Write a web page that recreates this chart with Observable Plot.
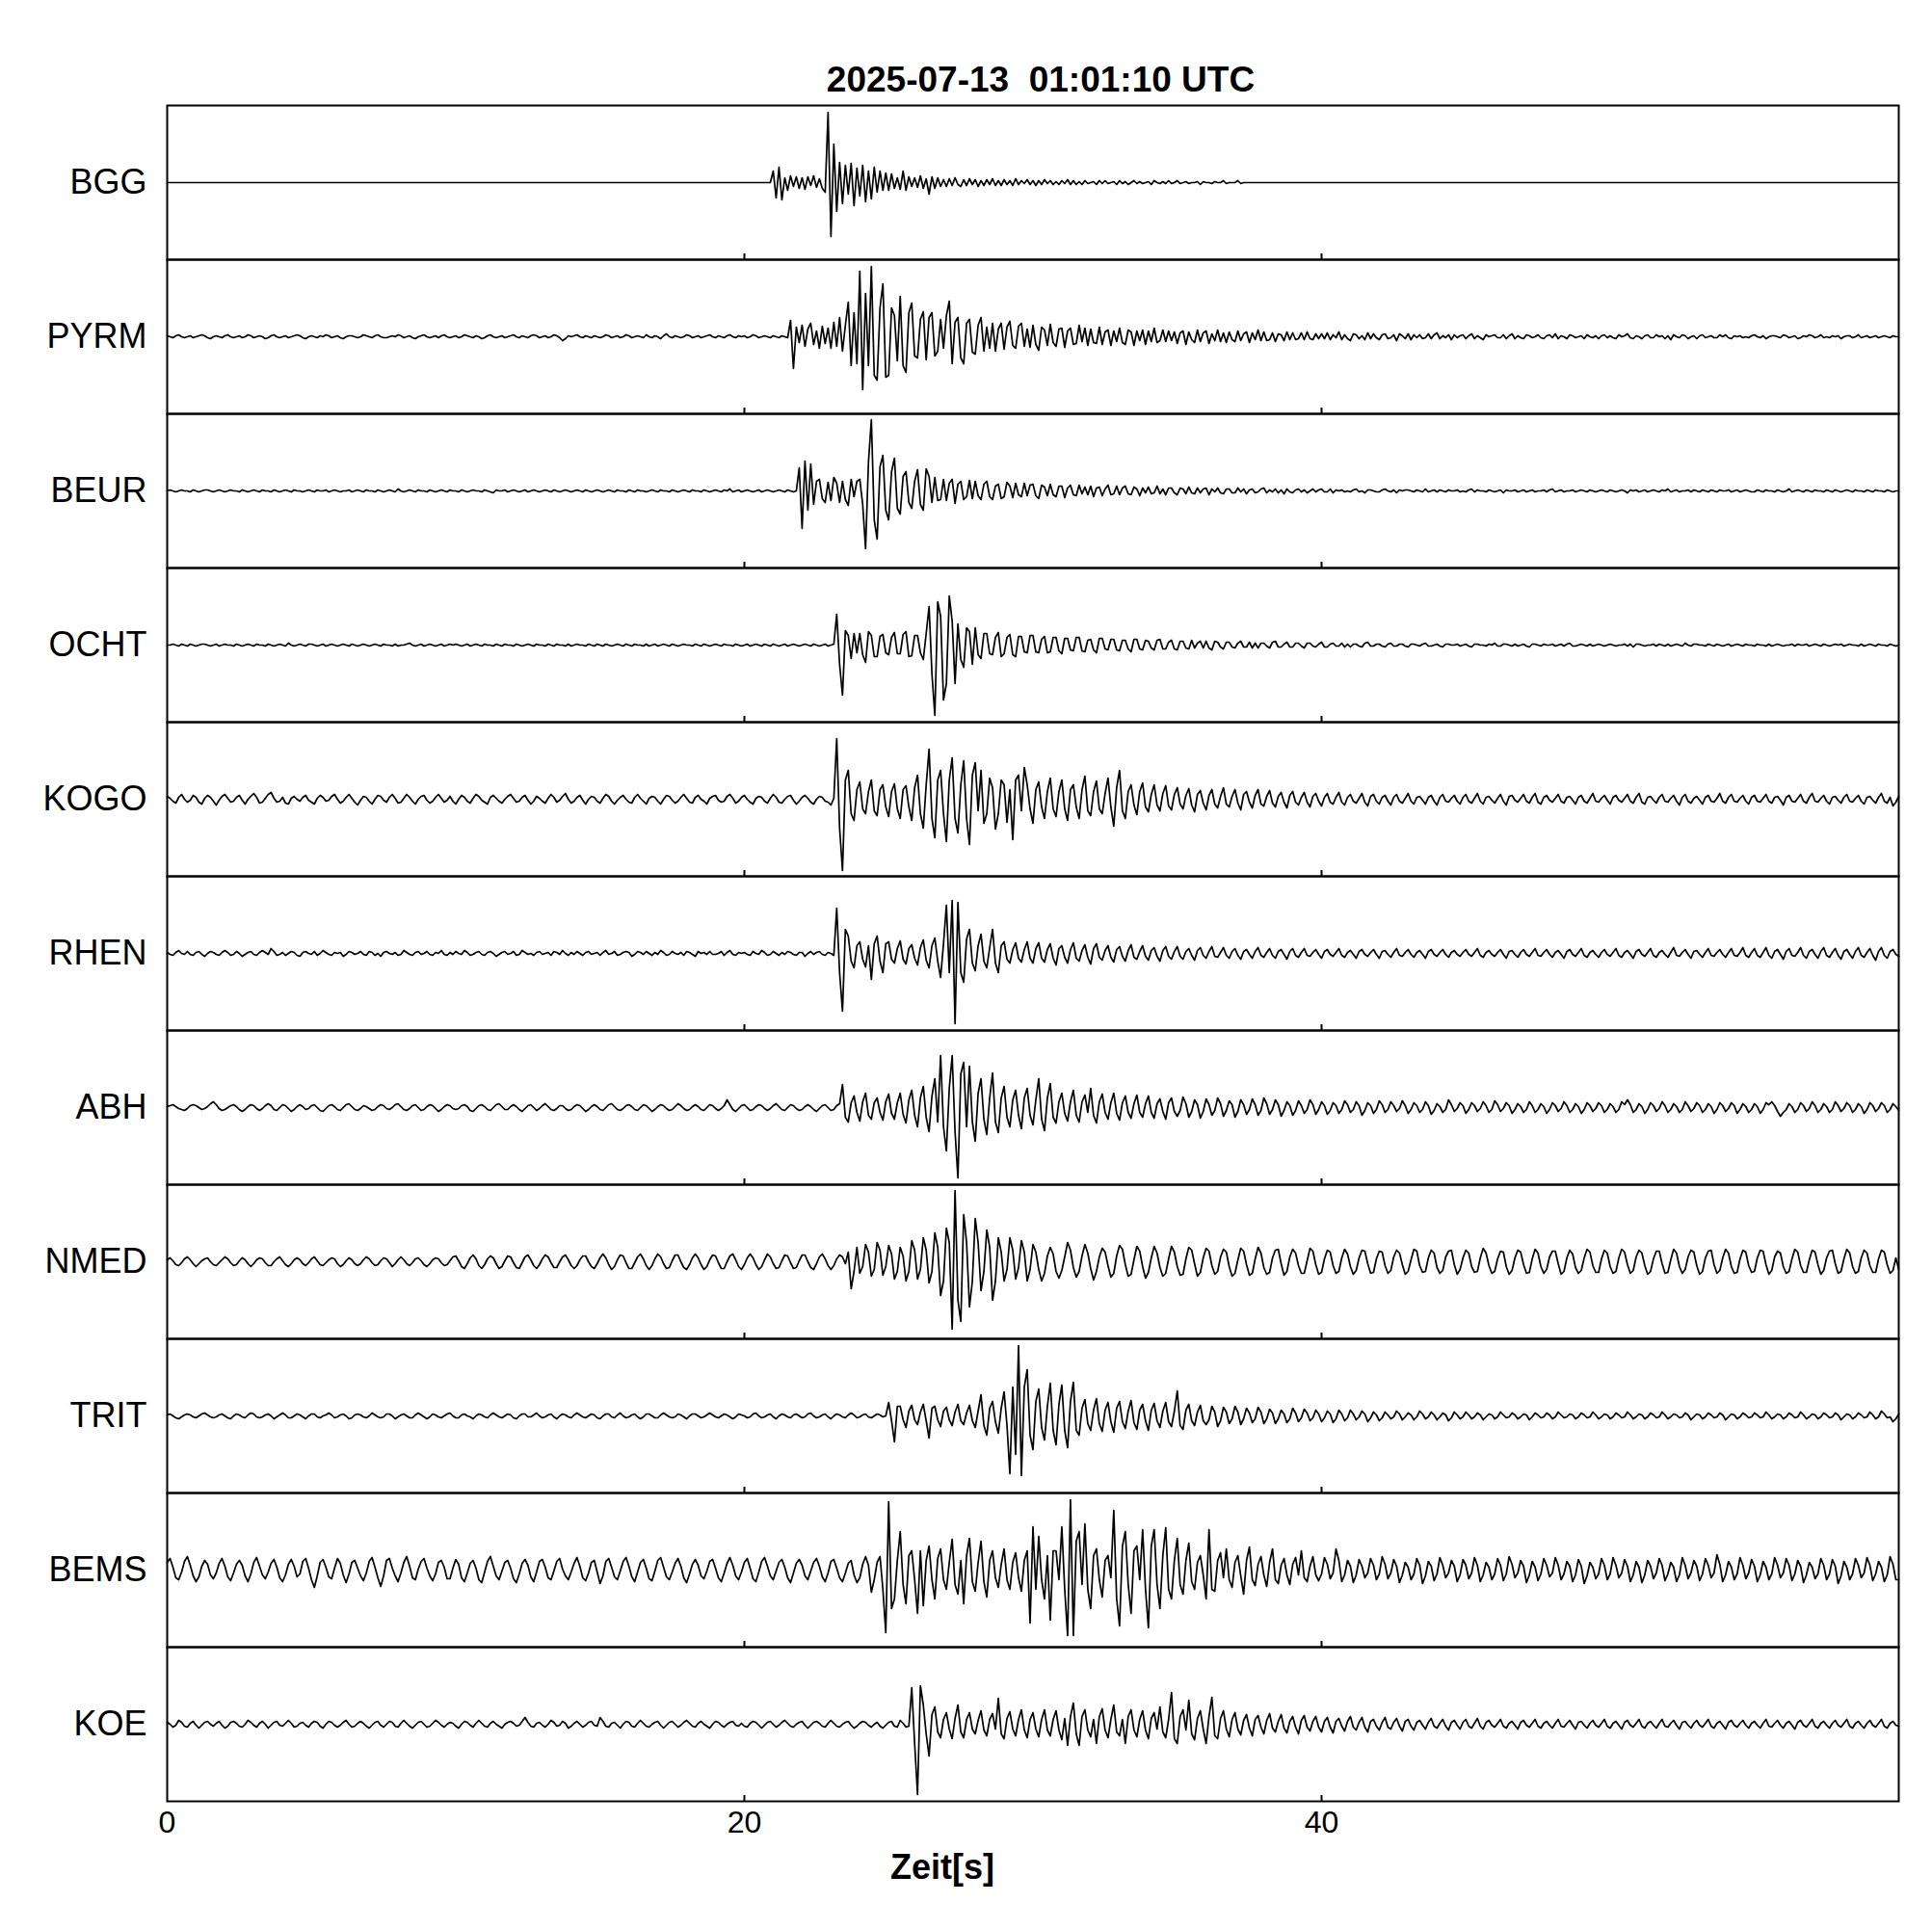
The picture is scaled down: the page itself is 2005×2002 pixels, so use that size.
<!DOCTYPE html>
<html>
<head>
<meta charset="utf-8">
<script src="https://cdn.jsdelivr.net/npm/d3@7"></script>
<script src="https://cdn.jsdelivr.net/npm/@observablehq/plot@0.6"></script>
<style>
  html, body { margin: 0; padding: 0; background: #fff; }
  #wrap { position: relative; width: 2005px; height: 2002px; font-family: "Liberation Sans", Arial, Helvetica, sans-serif; color: #000; }
  #title { position: absolute; left: 1080px; top: 64px; transform: translateX(-50%); font-size: 37px; line-height: 37px; font-weight: bold; white-space: pre; }
  #xlabel { position: absolute; left: 978px; top: 1920px; transform: translateX(-50%); font-size: 36px; line-height: 36px; font-weight: bold; white-space: pre; }
  #chart { position: absolute; left: 0; top: 0; }
</style>
</head>
<body>
<div id="wrap">
  <div id="chart"></div>
  <div id="title"></div>
  <div id="xlabel"></div>
</div>
<script>
const titleText = "2025-07-13  01:01:10 UTC";
const xLabelText = "Zeit[s]";
const stations = ["BGG","PYRM","BEUR","OCHT","KOGO","RHEN","ABH","NMED","TRIT","BEMS","KOE"];
const xTicks = [0, 20, 40];
const sampleStep = 0.1; // seconds between samples

// Trace deflections read from the record, one value every 0.1 s from 0 to 60 s (one line per second).
const BGG = [
0,0,0,0,0,0,0,0,0,0, 0,0,0,0,0,0,0,0,0,0, 0,0,0,0,0,0,0,0,0,0, 0,0,0,0,0,0,0,0,0,0, 0,0,0,0,0,0,0,0,0,0,
0,0,0,0,0,0,0,0,0,0, 0,0,0,0,0,0,0,0,0,0, 0,0,0,0,0,0,0,0,0,0, 0,0,0,0,0,0,0,0,0,0, 0,0,0,0,0,0,0,0,0,0,
0,0,0,0,0,0,0,0,0,0, 0,0,0,0,0,0,0,0,0,0, 0,0,0,0,0,0,0,0,0,0, 0,0,0,0,0,0,0,0,0,0, 0,0,0,0,0,0,0,0,0,0,
0,0,0,0,0,0,0,0,0,0, 0,0,0,0,0,0,0,0,0,0, 0,0,0,0,0,0,0,0,0,0, 0,0,0,0,0,0,0,0,0,0, 0,0,0,0,0,0,0,0,0,0,
0,0,0,0,0,0,0,0,0,0,
12,-16,16,-18,5,-8,7,-4,6,-6,
5,-7,6,-3,7,-5,4,-6,-10,73,
-56,40,-30,21,-22,18,-12,20,-24,15,
-14,18,-20,12,-17,16,-10,12,-8,10,
-8,9,-6,5,-7,12,-8,6,-4,5,
-5,7,-6,4,-12,6,-6,5,-4,3,
-4,4,-3,5,-2,-4,3,-3,4,-2,
3,-4,2,-3,3,-2,4,-3,2,-3,
3,-2,2,-3,4,-2,2,-1,3,-2,
2,-3,2,-2,3,-1,2,-2,1,-2,
2,-1,3,-2,2,-2,1,-2,2,-1,
0,1,-2,2,-1,2,-1,0,1,-2,
2,-1,1,-2,0,2,-1,1,-1,0,
1,-2,2,0,-1,1,-1,2,-1,0,
2,-1,0,1,-1,0,0,1,-2,1,
0,0,-1,1,0,0,2,-1,0,0,
0,2,-1,0,0,0,0,0,0,0,
0,0,0,0,0,0,0,0,0,0, 0,0,0,0,0,0,0,0,0,0,
0,0,0,0,0,0,0,0,0,0, 0,0,0,0,0,0,0,0,0,0, 0,0,0,0,0,0,0,0,0,0, 0,0,0,0,0,0,0,0,0,0, 0,0,0,0,0,0,0,0,0,0,
0,0,0,0,0,0,0,0,0,0, 0,0,0,0,0,0,0,0,0,0, 0,0,0,0,0,0,0,0,0,0, 0,0,0,0,0,0,0,0,0,0, 0,0,0,0,0,0,0,0,0,0,
0,0,0,0,0,0,0,0,0,0, 0,0,0,0,0,0,0,0,0,0, 0,0,0,0,0,0,0,0,0,0, 0,0,0,0,0,0,0,0,0,0, 0,0,0,0,0,0,0,0,0,0,
0,0,0,0,0,0,0,0,0,0, 0,0,0,0,0,0,0,0,0,0, 0,0,0,0,0,0,0,0,0,0, 0,0,0,0,0,0,0,0,0,0, 0,0,0,0,0,0,0,0,0,0,
0];
const PYRM = [
1,0,-1,1,2,0,-1,0,1,-1,
0,1,2,1,-1,-2,0,1,0,-1,
1,2,0,-1,0,1,-1,0,2,1,
-1,0,1,0,-2,-1,1,2,0,-1,
0,1,-1,0,1,2,1,-1,-2,0,
1,0,-1,1,0,2,1,-1,0,1,
-1,-2,0,1,1,0,-1,0,2,1,
0,-1,1,2,0,-1,-1,0,1,0,
2,1,-1,0,1,-1,-2,0,1,2,
0,-1,0,1,-1,1,2,0,-1,0,
1,-1,0,2,1,0,-1,1,0,-2,
-1,1,2,0,-1,0,1,-1,0,1,
2,0,-1,1,0,-1,1,2,1,-1,
0,1,-1,0,2,1,-1,-4,-2,1,
0,1,2,0,-1,1,0,-1,1,0,
-1,0,2,1,-1,0,1,-1,0,2,
1,-1,0,1,0,-1,2,0,-1,1,
0,-2,1,3,0,-1,1,0,-1,0,
2,1,-1,0,1,-1,0,1,2,0,
-1,1,0,-1,1,2,0,-1,1,0,
1,-1,0,2,1,-1,0,1,0,-1,
1,0,-1,1,0,-1,17,-33,10,-6,
12,-10,8,14,-8,6,-12,11,-7,9,
-12,15,-10,20,-15,12,36,-30,25,-28,
68,-55,45,-30,73,-40,-45,30,55,-42,
-40,30,22,-25,42,-30,-37,25,35,-20,
-22,18,26,-24,20,25,-20,-15,18,-12,
22,37,-28,15,20,-22,-28,14,18,-16,
-18,12,20,-15,10,-12,14,-15,8,14,
-13,10,16,-9,-12,11,14,-10,8,-11,
12,-8,-14,10,7,-9,13,-6,-10,8,
9,-11,6,9,-8,-7,12,-5,9,-9,
8,-6,-7,10,-8,5,7,-9,6,-5,
9,-6,-8,7,5,-9,6,-4,7,-8,
6,-5,9,-6,-4,7,-5,6,-4,5,
-7,4,6,-8,5,-3,-6,7,-5,4,
6,-7,3,-4,7,-5,4,-6,5,-3,
-5,6,-4,3,5,-6,4,-3,7,-4,
5,-4,-3,4,-5,3,2,-4,5,-3,
4,-3,-2,4,-3,5,-2,-3,3,-2,
3,-2,4,-3,2,-1,5,-3,2,-2,
-4,3,2,-2,1,-3,4,-2,3,-1,
-3,2,3,-2,-1,2,-4,3,1,-2,
3,-3,2,-1,2,-2,-1,3,-2,2,
4,-2,1,-1,2,-3,2,-1,1,2,
-2,1,3,-2,1,-1,-3,2,0,1,
2,-1,-1,2,-2,1,3,-2,1,-1,
-2,2,1,-1,0,2,-1,-2,1,2,
-1,3,-2,1,0,-2,2,1,-1,0,
1,-2,2,0,-1,1,-2,1,2,-1,
1,-1,-2,2,0,1,3,-1,-2,1,
0,-2,1,2,-1,-1,2,0,1,-2,
1,-3,2,0,-1,2,1,-2,0,1,
-2,1,2,-1,0,1,-1,-1,2,0,
2,-1,-2,1,0,1,-1,0,-1,1,
2,0,-1,1,-2,0,1,1,0,-1,
2,1,-1,0,1,-2,-1,1,0,2,
1,-1,0,2,-1,0,-1,1,0,1,
-2,0,1,1,-1,0,2,-1,0,1,
-1,0,1,-1,0,1,0,-1,1,0,
0];
const BEUR = [
0,1,0,-1,0,1,0,0,-1,1,
0,-1,0,1,1,0,-1,0,1,0,
-1,0,1,0,0,-1,1,0,-1,0,
1,0,-1,1,0,0,-1,1,0,-1,
0,1,0,-1,1,0,0,-1,0,1,
0,-1,1,0,0,1,-1,0,1,0,
-1,0,0,1,-1,0,1,0,-1,1,
0,0,-1,1,0,-1,0,1,0,-1,
2,0,-1,0,1,0,-1,1,0,0,
-1,1,0,-1,0,1,0,-1,1,0,
0,-1,1,0,-1,0,1,0,0,-1,
1,0,-1,-2,1,0,0,1,-1,0,
1,0,-1,0,1,-1,0,1,0,-1,
0,1,0,-1,1,0,-1,0,1,0,
-1,0,1,0,-1,1,0,-1,0,1,
0,-1,0,1,0,-1,1,0,0,-1,
1,0,-1,1,0,0,-1,0,1,0,
-1,1,0,0,-1,1,0,-1,0,1,
0,-1,1,0,0,-1,1,0,-1,0,
1,0,-1,1,0,2,-1,0,1,-1,
0,1,0,-1,0,1,-1,0,1,0,
-1,0,1,0,-1,1,0,-1,0,24,
-39,31,-20,28,-14,10,12,-8,-12,9,
-10,14,8,-12,10,-9,-15,12,-6,10,
12,-14,-60,30,74,-30,-50,25,37,-20,
-30,20,34,-18,-24,15,20,-12,-18,10,
22,-14,-20,23,15,-12,14,-10,-9,12,
-10,8,12,-13,7,10,-9,-6,11,-8,
10,-5,-9,7,10,-6,-9,5,7,-8,
-6,9,5,-7,8,-4,-6,8,-5,6,
7,-5,-8,6,4,-5,7,-4,-6,5,
5,-7,3,6,-4,-5,6,-3,4,-4,
5,-6,3,4,-5,2,6,-4,-3,5,
-4,3,5,-3,-4,4,2,-5,3,-2,
4,-3,-2,5,-3,2,-4,3,3,-2,
-4,3,2,-3,4,-2,-3,3,-2,2,
3,-4,2,-1,3,-2,-3,2,2,-2,
-2,3,-1,2,-3,1,2,-2,-1,2,
3,-2,1,-1,2,-2,1,-3,2,-1,
-2,1,2,-1,1,-2,0,2,-1,1,
2,-1,-1,2,-2,1,0,1,-1,0,
-1,1,2,-1,0,-2,1,1,0,-1,
-1,1,2,0,-1,1,-2,1,0,1,
1,0,-1,1,0,-1,2,-1,0,1,
-1,1,0,-1,1,0,0,1,-1,0,
-1,1,2,-1,1,0,0,-1,1,0,
-1,0,1,-2,1,0,0,1,-1,0,
1,-1,0,1,-1,0,0,1,-1,1,
2,-1,0,1,-1,0,0,1,-1,0,
1,0,-1,1,0,-1,0,1,0,-1,
1,0,-1,0,1,0,-2,1,0,1,
-1,0,1,-1,0,1,0,-1,1,0,
2,-1,0,1,-1,0,0,1,-1,1,
0,-1,1,0,-1,1,0,-1,1,0,
0,1,-1,0,1,-1,0,1,0,-1,
-1,1,0,-1,1,0,0,-1,1,0,
-1,0,2,-1,0,1,0,-1,1,0,
-1,1,0,0,-1,1,0,-1,1,0,
-1,0,1,0,-1,1,0,0,-1,1,
0,-1,1,0,0,-1,1,0,-1,0,
0];
const OCHT = [
0,0,1,0,-1,1,0,-1,1,0,
-1,0,1,1,0,-1,0,1,-1,0,
1,0,0,-1,1,0,-1,0,1,0,
-1,1,0,0,-1,1,0,-1,0,1,
0,-1,2,0,-1,0,1,0,-1,1,
1,0,-1,0,1,-1,0,1,0,-1,
0,1,0,-1,1,0,-1,0,1,0,
-1,0,1,0,-1,1,0,0,-1,1,
-1,0,0,1,2,0,-1,0,1,-1,
0,1,0,-1,0,1,-1,0,1,0,
1,0,-1,0,1,-1,0,1,0,-1,
1,0,0,-1,1,0,-1,1,0,0,
-1,1,0,-1,0,1,0,-1,1,0,
0,-1,1,0,-1,1,0,0,-1,1,
-1,0,1,0,0,-1,1,0,-1,1,
0,-1,1,0,-1,0,1,0,-1,1,
0,-1,1,0,0,-1,1,-1,0,1,
-1,0,1,0,-1,1,0,-1,0,1,
0,0,-1,1,0,-1,1,0,-1,0,
1,0,-1,1,0,0,-1,1,0,-1,
0,1,-1,0,1,0,-1,1,0,-1,
1,0,-1,0,1,-1,0,1,0,-1,
0,1,0,-1,1,0,-1,0,1,-1,
0,1,32,-20,-52,15,10,-14,12,-8,
12,-10,-18,14,10,-12,-12,9,11,-8,
-10,8,13,-9,-9,11,14,-12,-11,10,
10,-8,-15,12,40,-30,-73,45,30,-57,
-40,51,25,-40,22,-15,-23,18,14,-20,
18,-10,-14,12,12,-9,-10,8,13,-12,
-9,8,11,-10,-12,9,9,-7,-8,10,
10,-7,-8,6,9,-8,-7,8,8,-6,
-9,7,7,-5,-6,8,8,-6,-7,5,
6,-5,-8,7,7,-4,-5,6,6,-5,
-6,5,5,-4,-7,6,6,-4,-5,5,
4,-3,-5,5,6,-4,-4,3,5,-4,
-5,4,4,-3,-4,5,-3,2,4,-3,
4,-3,-5,4,3,-2,-4,3,3,-2,
-3,2,4,-2,-2,3,-3,2,-3,2,
2,-1,-3,3,4,-2,-2,1,3,-2,
-2,2,2,-1,-3,2,2,-1,-2,1,
3,-2,-2,1,2,-1,-1,2,-2,1,
-2,1,1,-1,-2,2,3,-1,-1,1,
1,-1,-2,1,2,-1,-1,1,1,-1,
-2,1,1,0,-1,1,2,-1,-1,0,
1,-1,-2,1,1,0,0,1,-1,0,
1,-1,-2,1,1,0,0,-1,1,0,
2,-1,-1,1,1,0,-1,1,-1,0,
1,-1,-2,1,1,0,-1,1,0,0,
1,-1,0,1,-1,1,2,-1,-1,0,
1,0,-1,1,-1,0,1,0,-1,0,
1,0,-1,0,0,1,-1,1,-2,1,
1,0,-1,0,0,1,-1,1,0,-1,
1,-1,0,1,0,-1,2,0,-1,1,
1,0,0,-1,1,0,-1,1,0,-1,
0,1,-1,0,1,0,-1,1,0,0,
-1,1,0,0,-1,1,-1,0,1,0,
-1,0,0,1,-1,1,0,0,1,-1,
0,1,0,-1,1,0,-1,0,1,0,
1,-1,0,1,0,0,-1,1,-1,0,
1,0,-1,1,0,0,-1,1,0,-1,
0];
const KOGO = [
3,1,-2,-4,2,5,0,-3,-1,4,
2,-3,-5,1,4,2,-2,-6,-1,3,
5,1,-3,-2,2,4,-1,-5,0,3,
6,2,-4,-3,1,5,7,1,-3,-2,
2,-4,-5,1,3,0,-2,2,4,-1,
-3,-5,1,4,2,-2,-1,3,5,0,
-4,-2,2,5,1,-3,-6,-1,3,2,
-2,-5,0,4,3,-1,-3,2,5,1,
-4,-3,1,5,2,-2,-5,0,3,4,
-1,-4,-2,2,5,1,-3,-1,3,-2,
-5,0,4,2,-2,-4,1,5,3,-1,
-3,-5,2,4,1,-2,-4,0,3,5,
1,-3,-2,2,4,-1,-5,-2,3,1,
-2,-4,1,5,2,-3,-1,3,6,0,
-4,-2,2,4,-1,-5,0,3,2,-2,
-4,1,5,3,-2,-5,-1,2,4,0,
-3,-4,2,5,1,-2,-5,1,3,2,
-2,-5,0,4,3,-1,-4,-2,2,5,
1,-3,-4,2,4,0,-2,-5,1,3,
4,-1,-3,-2,3,5,1,-4,-2,2,
4,0,-3,-5,1,3,2,-2,-4,1,
5,2,-3,-4,0,3,4,-1,-5,-2,
2,4,1,-3,-5,0,3,2,-2,-3,
-6,1,63,-30,-74,20,30,-15,-22,10,
18,-10,-15,8,20,-12,-17,10,15,-8,
-18,8,16,-10,-20,10,14,-8,-22,12,
25,-15,-30,15,52,-20,-40,20,30,-15,
-44,20,43,-20,-35,15,40,-20,-47,25,
38,-12,30,-25,-15,22,12,-31,-15,20,
15,-24,10,-42,20,25,-12,33,15,-10,
-25,10,18,-8,-20,8,22,-10,-18,8,
20,-10,-22,10,15,-8,-20,10,24,-12,
-17,8,19,-10,-15,6,22,-8,-28,12,
30,-12,-20,8,15,-6,-16,8,17,-8,
-13,5,15,-6,-12,6,14,-7,-11,5,
12,-5,-10,4,11,-6,-13,5,9,-4,
-11,4,10,-5,-9,3,12,-5,-8,3,
10,-4,-11,5,8,-3,-9,4,10,-5,
-7,3,9,-4,-8,3,7,-3,-9,4,
8,-3,-6,2,7,-3,-8,3,6,-2,
-7,2,6,-3,-5,2,7,-3,-6,2,
5,-2,-4,1,6,-3,-7,3,5,-2,
-5,2,4,-2,-6,2,5,-2,-4,1,
6,-2,-5,2,3,-1,-5,2,4,-2,
-6,2,5,-2,-3,1,4,-2,-5,2,
5,-2,-4,1,6,-2,-5,2,3,-1,
-4,1,5,-2,-6,3,4,-1,-3,1,
5,-2,-4,2,6,-3,-5,2,4,-1,
-3,1,5,-2,-4,2,3,-1,-5,2,
4,-2,-4,1,6,-2,-3,1,4,-1,
-5,2,4,-1,-3,1,5,-2,-4,2,
6,-3,-5,2,3,-1,-4,2,5,-2,
-3,1,4,-2,-6,2,5,-2,-4,1,
3,-1,-5,2,4,-2,-3,1,6,-2,
-4,2,5,-2,-3,1,4,-2,-5,2,
4,-2,-3,1,5,-2,-4,2,3,-1,
-6,2,4,-2,-3,1,5,-2,-4,2,
6,-2,-3,1,4,-2,-5,2,3,-1,
-4,2,5,-2,-3,1,4,-2,-5,2,
3,-1,-4,2,6,-2,-4,2,-7,-3,
3];
const RHEN = [
1,-1,-2,1,3,0,-1,2,-1,-2,
1,2,-1,-3,0,2,1,-1,-2,1,
3,1,-2,-1,2,0,-3,-1,1,2,
-1,-2,1,3,1,-1,5,2,-2,-1,
1,-2,0,2,1,-2,-3,1,2,0,
-1,2,-2,0,3,1,-1,-2,1,0,
1,-3,-1,2,1,-1,0,2,-1,-2,
2,1,-2,0,-3,1,2,0,-1,1,
-2,-1,3,1,-1,-2,1,2,-1,0,
2,-1,-2,1,0,3,-1,-2,1,-1,
2,0,-1,3,1,-2,-1,1,2,-1,
-2,1,2,0,-3,-1,1,2,-1,0,
2,-2,-1,3,1,-1,0,-2,1,2,
-1,0,1,-2,2,1,-1,3,0,-2,
1,-1,2,0,-2,1,2,-1,0,1,
-2,1,3,-1,0,2,-2,-1,1,2,
1,-3,-1,2,1,-1,2,0,-2,1,
-1,3,1,-2,-1,2,0,-1,1,-2,
2,1,-1,-3,2,0,1,-1,2,-1,
-1,0,2,-2,1,3,-1,-2,1,0,
1,-1,-2,2,0,-1,3,1,-2,-1,
2,0,-2,1,-1,2,1,-1,-2,1,
1,-3,0,2,-1,1,2,-1,-2,1,
0,-2,47,-20,-60,25,18,-8,-15,8,
12,-6,-14,8,-27,10,18,-8,-20,10,
12,-6,-10,5,13,-6,-11,5,9,-5,
-12,6,14,-7,-15,8,16,-8,-25,10,
50,-20,55,-73,53,-20,-30,15,25,-10,
-18,8,20,-8,-15,6,25,-10,-20,8,
12,-6,-10,4,11,-5,-9,4,12,-5,
-10,5,11,-5,-9,4,10,-5,-12,5,
8,-4,-10,4,11,-5,-8,3,9,-4,
-11,5,10,-4,-7,3,8,-4,-9,4,
7,-3,-8,3,9,-4,-6,2,8,-3,
-7,3,6,-3,-8,3,7,-3,-6,2,
7,-3,-6,2,5,-2,-7,3,6,-2,
-5,2,7,-3,-4,1,6,-2,-5,2,
5,-2,-6,2,4,-1,-5,2,6,-2,
-4,1,5,-2,-5,2,4,-1,-6,2,
5,-2,-4,1,5,-2,-3,1,4,-1,
-5,2,4,-1,-3,1,5,-2,-4,1,
3,-1,-5,2,4,-1,-3,1,4,-1,
-5,2,3,-1,-4,1,5,-2,-3,1,
4,-1,-4,1,3,-1,-5,2,4,-1,
-3,1,4,-1,-4,1,3,-1,-3,1,
4,-1,-3,1,5,-2,-4,1,3,-1,
-3,1,4,-1,-5,2,3,-1,-4,1,
4,-1,-3,1,5,-2,-3,1,4,-1,
-4,1,3,-1,-5,2,4,-1,-3,1,
5,-2,-4,1,3,-1,-4,1,4,-1,
-3,1,5,-2,-4,1,3,-1,-5,2,
4,-1,-3,1,5,-2,-4,1,3,-1,
-4,1,6,-2,-3,1,4,-1,-5,2,
3,-1,-4,1,5,-2,-3,1,4,-1,
-4,1,5,-2,-3,1,6,-2,-4,1,
5,-2,-4,1,6,-2,-5,2,4,-1,
-6,2,5,-2,-3,1,6,-2,-5,2,
4,-1,-5,2,6,-2,-4,1,5,-2,
-6,2,4,-1,-5,2,6,-2,-4,1,
5,-2,-7,2,6,-2,-5,2,4,-1,
-3];
const ABH = [
1,2,3,1,-1,-2,-3,-1,2,3,
2,0,-2,-1,1,4,6,3,-1,-3,
-2,0,2,3,1,-2,-4,-2,1,3,
2,-1,-3,-1,2,4,2,-2,-3,0,
3,2,-1,-4,-2,1,3,1,-2,-1,
2,3,0,-3,-4,-1,2,3,1,-2,
-3,0,3,4,1,-2,-3,-1,2,1,
-1,-3,-2,1,3,2,-1,-2,0,3,
4,1,-2,-3,-1,2,3,0,-3,-2,
1,3,2,-1,-4,-2,1,3,2,-1,
-2,-1,2,3,1,-3,-4,-1,2,3,
1,-2,-3,0,3,4,1,-2,-2,1,
3,1,-2,-4,-1,2,3,0,-3,-1,
2,4,1,-2,-3,-1,2,2,-1,-3,
-2,1,3,2,-1,-4,-2,1,3,1,
-2,-3,0,3,4,1,-2,-3,-1,2,
3,1,-2,-3,0,3,2,-1,-4,-2,
1,3,2,-1,-3,-2,1,4,2,-1,
-3,-2,1,3,1,-2,-3,0,3,2,
-1,-3,-1,2,8,3,-2,-4,-1,2,
3,0,-3,-2,1,3,2,-1,-3,-1,
2,4,1,-2,-3,0,3,2,-1,-3,
-2,1,3,1,-2,-4,-1,2,3,0,
-3,-2,2,4,24,-10,-15,5,12,-5,
-14,6,15,-8,-12,5,10,-5,-13,6,
14,-6,-12,5,15,-7,-16,8,18,-8,
-20,10,22,-10,-25,12,30,-15,54,-20,
-45,20,54,-25,-73,35,47,-20,43,-15,
-35,15,30,-12,-28,10,36,-15,-26,10,
22,-10,-20,8,18,-8,-22,10,20,-8,
-18,8,30,-12,-24,10,25,-10,-16,6,
15,-6,-14,6,18,-8,-15,6,13,-5,
20,-8,-16,6,14,-5,-12,5,15,-6,
-13,5,12,-5,-11,4,13,-5,-10,4,
12,-5,-11,4,9,-4,-12,5,10,-4,
-9,-3,11,4,-10,-4,8,3,-11,-4,
9,3,-8,-3,10,4,-9,-3,7,3,
-10,-4,8,3,-7,-2,9,3,-8,-3,
10,4,-7,-2,8,3,-9,-3,6,2,
-8,-3,7,2,-6,-2,8,3,-7,-2,
6,2,-7,-3,5,2,-6,-2,7,3,
-5,-2,6,2,-8,-3,5,2,-6,-2,
7,3,-5,-2,6,2,-4,-1,7,2,
-6,-2,5,2,-5,-2,6,2,-7,-3,
4,1,-5,-2,8,3,-4,-1,5,2,
-6,-2,5,2,-4,-1,6,2,-5,-2,
7,3,-4,-1,5,2,-6,-2,4,1,
-5,-2,6,2,-5,-2,4,1,-6,-2,
5,2,-4,-1,6,2,-5,-2,4,1,
-6,-2,5,2,-4,-1,5,2,-5,-2,
4,1,-5,-2,6,3,8,3,-5,-2,
4,1,-6,-2,5,2,-4,-1,6,2,
-5,-2,4,1,-5,-2,6,2,-4,-1,
5,2,-5,-2,4,1,-6,-2,5,2,
-4,-1,5,2,-6,-2,4,1,-5,-2,
4,1,-6,-2,5,3,6,2,-4,-9,
-5,-2,4,1,-5,-2,5,2,-4,-1,
6,2,-5,-2,4,1,-5,-2,6,2,
-4,-1,5,2,-5,-2,4,1,-6,-2,
5,2,-4,-1,5,2,-5,-2,4,1,
-3];
const NMED = [
2,4,1,-3,-4,-1,3,5,2,-2,
-5,-2,1,3,4,0,-3,-4,-1,2,
5,3,-1,-4,-3,1,4,2,-2,-5,
-2,2,4,3,-1,-4,-4,0,3,5,
1,-3,-5,-2,2,4,2,-2,-4,-1,
3,5,1,-3,-4,-1,2,4,3,-2,
-5,-3,1,4,2,-2,-4,-2,2,5,
3,-1,-4,-3,1,4,3,-1,-5,-2,
2,5,2,-2,-4,-1,3,4,1,-3,
-5,-2,2,4,3,-1,-4,-3,1,5,
6,1,-5,-7,-2,4,7,3,-4,-7,
-3,3,6,4,-2,-7,-5,1,6,5,
-1,-6,-7,-1,5,7,2,-4,-7,-3,
3,7,5,-1,-6,-6,0,5,7,2,
-4,-7,-4,2,6,6,0,-5,-7,-2,
4,8,4,-3,-8,-5,2,7,6,-1,
-7,-7,-1,5,8,3,-4,-8,-4,3,
8,5,-2,-7,-6,1,7,7,0,-6,
-8,-3,4,8,4,-3,-8,-5,2,7,
6,-1,-7,-7,0,6,8,2,-5,-8,
-3,4,8,4,-3,-8,-5,2,8,5,
-2,-7,-6,1,7,6,-1,-7,-6,1,
7,7,0,-6,-8,-2,5,8,3,-4,
-8,-4,3,7,5,-2,10,-28,-10,15,
-12,-5,18,10,-15,-8,20,12,-14,-5,
17,8,-18,-10,15,6,-20,-10,22,12,
-18,-8,25,12,-22,-10,30,15,-35,-20,
35,20,-70,74,-40,-62,49,20,-47,-20,
45,20,-30,-10,33,15,-40,-20,25,10,
-20,-8,25,12,-18,-6,22,10,-20,-8,
18,10,-8,-20,-12,6,15,8,-10,-17,
-9,5,20,12,-6,-16,-10,6,18,9,
-7,-19,-10,5,14,10,-4,-16,-12,6,
17,13,-3,-15,-13,2,16,11,-5,-17,
-11,4,16,9,-6,-15,-12,3,16,10,
-5,-14,-13,3,15,12,-2,-15,-11,4,
14,11,-4,-13,-10,5,13,10,-5,-15,
-12,2,14,11,-3,-14,-12,3,15,9,
-6,-13,-11,4,12,13,-2,-14,-10,5,
13,9,-4,-12,-12,1,14,11,-3,-13,
-11,3,12,10,-4,-12,-10,4,13,8,
-5,-13,-9,4,12,11,-2,-12,-11,3,
11,10,-4,-12,-9,5,12,9,-3,-13,
-10,2,13,11,-4,-11,-10,4,12,9,
-6,-12,-9,5,11,12,-3,-13,-8,4,
12,9,-5,-11,-10,4,14,9,-4,-12,
-10,3,11,10,-5,-13,-9,4,12,10,
-3,-12,-11,3,13,9,-5,-12,-8,5,
11,11,-2,-13,-10,4,12,8,-6,-12,
-9,4,13,10,-4,-11,-11,3,12,9,
-5,-12,-10,4,13,10,-3,-12,-9,5,
12,9,-4,-13,-10,3,11,11,-2,-12,
-11,2,13,9,-5,-12,-8,5,12,10,
-4,-13,-10,4,11,12,-3,-12,-9,4,
13,9,-5,-12,-11,3,12,10,-4,-11,
-10,4,12,11,-3,-13,-9,5,11,9,
-5,-12,-10,3,13,10,-4,-11,-11,2,
12,10,-3,-13,-9,4,11,12,-2,-12,
-10,3,13,9,-5,-12,-10,4,12,9,
-4,-11,-11,3,12,10,-3,-12,-9,4,
-8];
const TRIT = [
1,2,0,-2,-3,-1,1,2,1,-1,
-2,0,2,3,1,-1,-2,-1,1,2,
0,-2,-3,0,2,1,-1,-2,1,3,
2,-1,-2,-1,1,2,0,-3,-1,1,
3,1,-2,-2,0,2,1,-1,-3,0,
2,2,-1,-2,0,1,3,1,-2,-1,
1,2,0,-3,-2,1,2,1,-1,-2,
0,3,1,-1,-2,-1,2,2,0,-3,
-1,1,2,0,-2,-2,1,3,1,-1,
-3,-1,2,1,-1,-2,0,2,3,0,
-2,-2,1,2,0,-1,-3,0,2,1,
-1,-2,1,3,1,-1,-2,0,2,1,
-2,-3,0,2,2,-1,-1,1,3,0,
-2,-1,1,2,-1,-3,0,2,1,-1,
-2,1,3,1,-1,-2,0,2,1,-2,
-3,0,2,2,-1,-2,1,3,0,-2,
-1,1,2,-1,-3,-1,2,2,0,-2,
-2,1,3,1,-1,-2,-1,2,1,-1,
-3,0,2,2,0,-2,-1,1,3,1,
-1,-2,0,2,1,-1,-3,-1,2,1,
0,-2,-1,2,3,0,-2,-1,1,2,
-1,-3,0,2,1,-1,-2,1,2,0,
-2,-1,2,3,0,-2,-1,1,2,-1,
-3,0,2,1,-1,-2,1,3,1,-2,
-1,1,2,-1,-2,0,2,1,-1,0,
14,-5,-27,10,10,-4,-12,5,11,-4,
-9,4,12,-5,-23,8,10,-4,-11,5,
9,-4,-10,4,12,-5,-9,3,11,-5,
-12,5,22,-10,-20,8,15,-6,-18,8,
25,-10,-60,30,-40,73,-62,30,48,-20,
-35,15,28,-12,-25,10,34,-15,-30,12,
32,-15,-33,15,35,-15,-20,8,17,-8,
-15,6,18,-8,-16,6,14,-6,-17,8,
15,-6,-13,5,16,-7,-14,6,12,-5,
-15,6,13,-5,-12,5,14,-6,-11,5,
26,-10,-14,6,12,-5,-10,4,11,-5,
-9,-4,10,4,-11,-5,9,4,-8,-3,
10,4,-9,-3,8,3,-7,-3,9,4,
-8,-3,7,3,-8,-3,6,2,-7,-3,
8,3,-6,-2,7,3,-5,-2,6,2,
-6,-2,5,2,-7,-3,6,2,-5,-2,
6,2,-4,-1,5,2,-6,-2,4,1,
-5,-2,4,1,-3,-1,5,2,-4,-1,
3,1,-4,-1,5,2,-3,-1,4,1,
-4,-1,3,1,-5,-2,4,1,-3,-1,
4,1,-3,-1,3,1,-4,-1,2,1,
-3,-1,4,1,-2,-1,3,1,-3,-1,
2,1,-4,-1,3,1,-2,-1,3,1,
-3,-1,4,1,-2,-1,2,1,-3,-1,
3,1,-2,-1,4,1,-3,-1,2,1,
-3,-1,3,1,-2,-1,4,1,-3,-1,
2,1,-3,-1,3,1,-2,-1,4,1,
-3,-1,2,1,-2,-1,3,1,-4,-1,
2,1,-3,-1,3,1,-2,-1,3,1,
-4,-1,2,1,-3,-1,3,1,-2,-1,
3,1,-2,-1,4,1,-3,-1,2,1,
-3,-1,3,1,-2,-1,4,1,-3,-1,
2,1,-3,-1,3,1,-2,-1,3,1,
-4,-1,2,1,-3,-1,3,1,-2,-1,
4,1,-3,-1,5,2,-2,-1,-6,-3,
2];
const BEMS = [
8,12,3,-8,-10,-2,9,14,5,-6,
-12,-7,4,10,6,-5,-9,-3,7,12,
4,-7,-11,-3,6,10,5,-6,-12,-4,
8,13,4,-5,-9,-2,7,11,3,-8,
-12,-5,6,11,4,-7,-4,9,12,2,
-10,-18,-6,8,11,3,-7,-9,2,12,
7,-5,-13,-4,8,10,2,-6,-11,-3,
9,13,3,-8,-17,-6,10,12,2,-6,
-12,-3,8,14,4,-8,-10,1,9,12,
2,-6,-11,-4,8,10,3,-9,-9,2,
11,6,-8,-12,-3,7,10,2,-10,-13,
-2,9,14,4,-6,-10,-1,8,10,2,
-9,-13,-4,7,11,5,-7,-12,-2,9,
11,3,-8,-10,-1,9,12,1,-6,-10,
-2,7,13,4,-8,-11,-3,8,10,-2,
-14,-6,9,12,3,-7,-10,-1,9,13,
4,-7,-12,-2,8,11,2,-9,-11,-1,
10,13,3,-7,-10,-2,7,12,4,-8,
-13,-4,6,11,5,-6,-9,-1,9,11,
2,-8,-12,-3,7,13,5,-6,-10,-2,
8,12,2,-9,-12,-2,9,13,4,-6,
-10,-1,8,11,3,-8,-13,-3,7,11,
5,-6,-10,-1,8,12,4,-7,-12,-3,
9,11,2,-8,-12,-3,7,10,-5,-13,
-8,6,14,5,-23,-10,8,14,-20,-65,
71,-40,-30,10,40,-15,-35,15,20,-10,
-45,20,-37,10,25,-10,-30,12,22,-10,
-20,8,32,-15,-25,10,-35,15,33,-12,
-22,8,30,-12,-28,10,20,-8,-18,6,
22,-10,-20,8,18,-8,-22,10,20,-55,
45,-20,35,-10,-30,15,-52,20,20,-10,
45,-20,-68,73,-68,30,40,-15,48,-20,
-40,15,22,-10,-28,10,15,-8,62,-30,
-58,25,40,-15,-45,20,25,-10,42,-20,
-60,25,42,-15,-40,15,44,-20,-30,10,
33,-15,-25,10,28,-12,-20,8,15,-5,
-30,42,-20,-22,10,18,-8,22,-10,-18,
8,15,-6,-25,10,24,-10,-16,6,14,
-5,-17,8,22,-10,-14,5,12,-5,-15,
6,13,-5,20,-8,-12,4,14,-5,-11,
-4,13,6,-9,-3,22,10,-12,-5,10,
4,-13,-5,11,4,-8,-3,12,5,-10,
-4,14,6,-9,-3,11,4,-13,-5,8,
3,-10,-4,12,5,-14,-6,9,4,-11,
-4,13,5,-8,-3,10,4,-12,-5,11,
5,-9,-3,13,5,-12,-5,8,3,-10,
-4,12,5,-11,-4,14,6,-8,-3,10,
4,-13,-5,9,3,-11,-4,12,5,-7,
-3,13,5,-10,-4,9,4,-12,-5,11,
4,-14,-6,8,3,-9,-4,12,5,-10,
-4,13,5,-8,-3,11,4,-12,-5,9,
3,-13,-5,10,4,-9,-3,12,5,-11,
-4,8,3,-12,-5,13,5,-9,-3,10,
4,-11,-4,12,5,-8,-3,16,6,-12,
-5,9,3,-10,-4,13,5,-9,-3,11,
4,-12,-5,9,3,-10,-4,13,5,-8,
-3,12,5,-11,-4,10,4,-13,-5,8,
3,-9,-4,12,5,-10,-4,11,4,-14,
-6,9,3,-10,-4,12,5,-8,-3,13,
5,-11,-4,9,3,-12,-5,14,6,-10,
-10];
const KOE = [
2,0,-3,-1,4,2,-2,-3,1,3,
-1,-4,-1,2,3,0,-2,1,3,-1,
-4,-2,2,3,1,-2,-3,0,4,2,
-1,-3,1,3,0,-4,-1,2,3,-1,
-2,1,4,1,-3,-2,1,2,-1,-3,
1,3,2,-2,-4,0,3,2,-1,-3,
-1,2,4,0,-3,-2,1,3,1,-2,
-4,-1,2,3,-1,-3,0,3,2,-2,
-3,1,4,1,-2,-4,-1,2,3,0,
-3,-2,1,4,2,-1,-3,0,2,1,
-2,-4,0,3,2,-1,-3,1,4,1,
-2,-3,1,3,0,-2,-4,0,2,3,
1,-2,-1,3,7,2,-2,-3,1,2,
-1,-3,0,4,2,-2,-1,3,1,-4,
-2,1,3,0,-3,-1,2,3,-1,-2,
7,3,-2,-3,1,2,-1,-4,0,3,
2,-2,-3,1,4,1,-2,-3,0,2,
3,-1,-4,-1,2,3,0,-3,-1,2,
4,1,-2,-3,1,3,0,-2,-4,0,
3,2,-1,-3,0,2,3,-1,-2,1,
-2,-3,1,3,2,-1,-4,-1,2,3,
0,-3,-1,2,4,1,-2,-3,0,2,
3,-1,-4,-1,2,3,1,-2,-3,1,
4,1,-2,-3,0,2,3,-1,-4,-2,
1,3,2,-1,-3,0,2,-2,-4,-1,
2,3,-2,-3,4,1,-3,-2,38,-20,
-73,40,20,-10,-33,10,18,-8,-14,5,
12,-5,-15,6,20,-8,-14,5,12,-5,
-10,4,14,-6,-12,5,11,-5,27,-10,
-15,6,13,-5,-12,5,15,-6,-14,5,
12,-5,-13,5,15,-6,-12,5,14,-6,
-16,6,-22,8,22,-10,-22,8,15,-6,
-13,5,-20,8,16,-6,-14,5,20,-8,
-12,5,-20,8,15,-6,-13,5,14,-6,
-15,6,12,-5,18,-8,-14,5,33,-15,
-20,8,15,-6,25,-10,-16,6,14,-5,
-20,8,28,-12,-15,6,14,-5,-13,5,
12,-5,-11,4,10,-4,-12,5,9,-3,
-10,4,11,-4,-8,3,10,-4,-9,3,
8,-3,-10,4,9,-3,-7,3,8,-3,
-8,3,7,-3,-9,3,6,-2,-7,3,
8,-3,-6,2,7,-3,-8,3,5,-2,
-6,2,7,-3,-5,2,6,-2,-7,3,
5,-2,-6,2,4,-1,-5,2,6,-2,
-4,1,5,-2,-6,2,4,-1,-5,2,
5,-2,-4,1,6,-2,-5,2,4,-1,
-3,1,5,-2,-4,1,3,-1,-5,2,
4,-1,-3,1,5,-2,-4,1,3,-1,
-4,1,5,-2,-3,1,4,-1,-5,2,
3,-1,-4,1,4,-1,-3,1,5,-2,
-4,1,3,-1,-5,2,4,-1,-3,1,
5,-2,-4,1,3,-1,-4,1,5,-2,
-3,1,4,-1,-5,2,3,-1,-4,1,
4,-1,-3,1,5,-2,-4,1,3,-1,
-5,2,4,-1,-3,1,4,-1,-4,1,
3,-1,-4,1,5,-2,-3,1,4,-1,
-4,1,3,-1,-5,2,4,-1,-3,1,
5,-2,-4,1,3,-1,-4,1,4,-1,
-3,1,5,-2,-4,1,3,-1,-4,1,
4,-1,-3,1,5,-2,-4,1,3,-1,
-2];

const seriesList = [BGG, PYRM, BEUR, OCHT, KOGO, RHEN, ABH, NMED, TRIT, BEMS, KOE];

const rows = stations.flatMap((s, k) =>
  seriesList[k].map((v, i) => ({station: s, t: Math.round(i * sampleStep * 100) / 100, v}))
);

document.getElementById("title").textContent = titleText;
document.getElementById("xlabel").textContent = xLabelText;

const chart = Plot.plot({
  width: 2005,
  height: 2002,
  marginLeft: 173,
  marginRight: 35,
  marginTop: 109,
  marginBottom: 133,
  style: {background: "white", color: "black", fontFamily: "'Liberation Sans', Arial, Helvetica, sans-serif", overflow: "visible"},
  x: {domain: [0, 60]},
  y: {domain: [-80, 80], axis: null},
  fy: {domain: stations, padding: 0, round: false},
  marks: [
    Plot.line(rows, {x: "t", y: "v", fy: "station", stroke: "black", strokeWidth: 1.7}),
    Plot.ruleX(xTicks.filter(d => d > 0), {y1: -80, y2: -74, stroke: "black", strokeWidth: 2}),
    Plot.frame({stroke: "black", strokeWidth: 2}),
    Plot.axisFy({anchor: "left", tickSize: 0, tickPadding: 21, fontSize: 36, label: null}),
    Plot.axisX({anchor: "bottom", ticks: xTicks, tickSize: 0, tickPadding: 10, fontSize: 32, label: null})
  ]
});
document.getElementById("chart").appendChild(chart);

const bad = seriesList.map((a, k) => [stations[k], a.length]).filter(d => d[1] !== 601);
if (bad.length) setTimeout(() => { throw new Error("length mismatch: " + JSON.stringify(bad)); }, 0);
</script>
</body>
</html>
